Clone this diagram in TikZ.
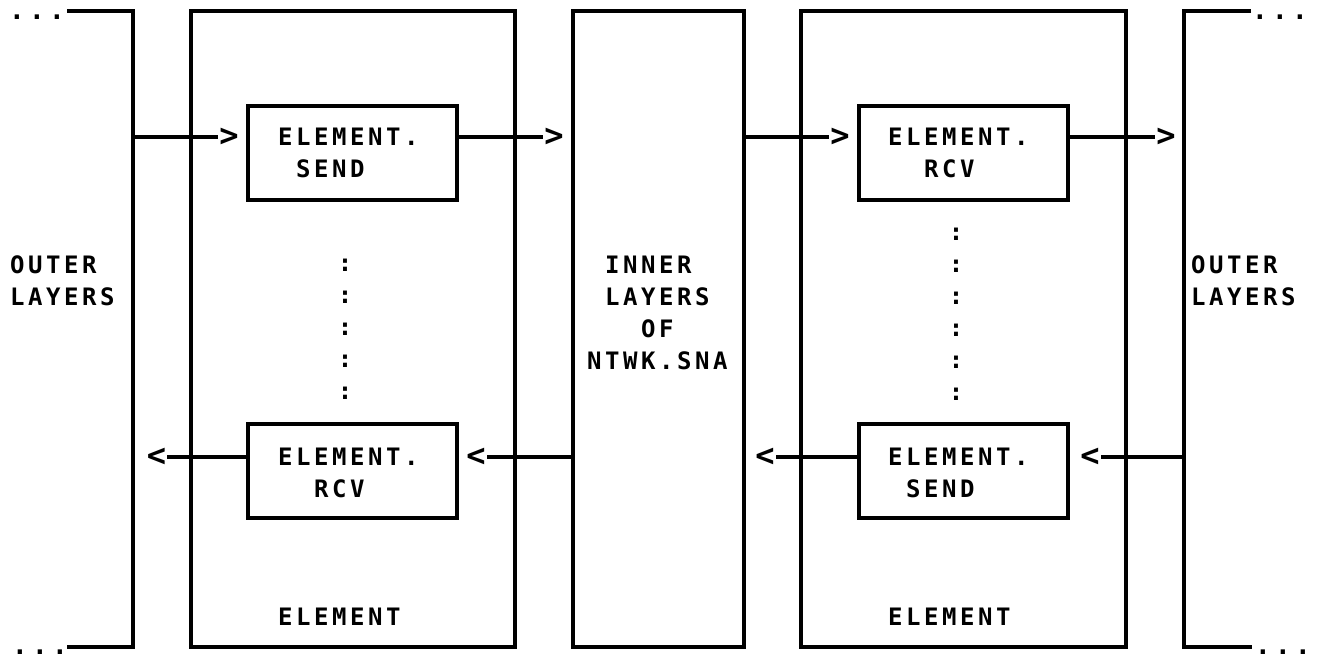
\documentclass[tikz,border=0pt]{standalone}
\usepackage{fontspec}
\newfontfamily\dgfont[LetterSpace=14.8, BoldFont={DejaVu Sans Mono Bold}]{DejaVu Sans Mono}
\newfontfamily\dotfont[LetterSpace=16.7, BoldFont={DejaVu Sans Mono Bold}]{DejaVu Sans Mono}
\newfontfamily\chevfont[BoldFont={DejaVu Sans Mono Bold}]{DejaVu Sans Mono}
\tikzset{
  frame/.style={draw, line width=3.3pt, inner sep=0pt},
  lbl/.style={font={\dgfont\bfseries\fontsize{24pt}{28pt}\selectfont}, inner sep=0pt, anchor=west},
  ellip/.style={font={\dotfont\bfseries\fontsize{26pt}{28pt}\selectfont}, inner sep=0pt, anchor=west},
  colon/.style={font={\chevfont\bfseries\fontsize{24pt}{28pt}\selectfont}, inner sep=0pt},
  chev/.style={font={\chevfont\bfseries\fontsize{32pt}{34pt}\selectfont}, inner sep=0pt},
  conn/.style={line width=3.3pt, shorten >=1pt},
  brk/.style={line width=3.3pt, line join=miter},
}
\begin{document}
\begin{tikzpicture}[x=1pt, y=-1pt]
\useasboundingbox (0,0) rectangle (1324,658);
% outer brackets
\draw[brk] (67,11) -- (133,11) -- (133,647) -- (67,647);
\draw[brk] (1251,11) -- (1184,11) -- (1184,647) -- (1252,647);
\coordinate (lb1) at (133,137);
\coordinate (rb2) at (1184,457);
\node[ellip] (dotsTL) at (9,17) {...};
\node[ellip] (dotsBL) at (12,652) {...};
\node[ellip] (dotsTR) at (1252,17) {...};
\node[ellip] (dotsBR) at (1255,652) {...};
\node[lbl] (outerL1) at (10,265) {OUTER};
\node[lbl] (outerL2) at (10,297) {LAYERS};
\node[lbl] (outerR1) at (1191,265) {OUTER};
\node[lbl] (outerR2) at (1191,297) {LAYERS};
% big boxes
\node[frame, minimum width=324pt, minimum height=636pt] (elemA) at (353,329) {};
\node[frame, minimum width=171pt, minimum height=636pt] (inner) at (658.5,329) {};
\node[frame, minimum width=325pt, minimum height=636pt] (elemB) at (963.5,329) {};
% small boxes
\node[frame, minimum width=209pt, minimum height=94pt] (sendA) at (352.5,153) {};
\node[frame, minimum width=209pt, minimum height=94pt] (rcvA) at (352.5,471) {};
\node[frame, minimum width=209pt, minimum height=94pt] (rcvB) at (963.5,153) {};
\node[frame, minimum width=209pt, minimum height=94pt] (sendB) at (963.5,471) {};
% texts left element
\node[lbl] (tA1) at (278,137) {ELEMENT.};
\node[lbl] (tA2) at (296,169) {SEND};
\node[lbl] (tA3) at (278,457) {ELEMENT.};
\node[lbl] (tA4) at (314,489) {RCV};
\node[lbl] (tA5) at (278,617) {ELEMENT};
\foreach \y [count=\i] in {265,297,329,361,393} \node[colon] (colA\i) at (345,\y) {:};
% inner
\node[lbl] (in1) at (605,265) {INNER};
\node[lbl] (in2) at (605,297) {LAYERS};
\node[lbl] (in3) at (641,329) {OF};
\node[lbl] (in4) at (587,361) {NTWK.SNA};
% texts right element
\node[lbl] (tB1) at (888,137) {ELEMENT.};
\node[lbl] (tB2) at (924,169) {RCV};
\node[lbl] (tB3) at (888,457) {ELEMENT.};
\node[lbl] (tB4) at (906,489) {SEND};
\node[lbl] (tB5) at (888,617) {ELEMENT};
\foreach \y [count=\i] in {234,266,298,330,362,394} \node[colon] (colB\i) at (956,\y) {:};
% arrows top
\node[chev] (c1) at (229,137) {>};
\node[chev] (c2) at (554,137) {>};
\node[chev] (c3) at (840,137) {>};
\node[chev] (c4) at (1166,137) {>};
\draw[conn] (lb1) -- (c1);
\draw[conn] (sendA.east |- c2) -- (c2);
\draw[conn] (inner.east |- c3) -- (c3);
\draw[conn] (rcvB.east |- c4) -- (c4);
% arrows bottom
\node[chev] (d1) at (156.5,457) {<};
\node[chev] (d2) at (476,457) {<};
\node[chev] (d3) at (765,457) {<};
\node[chev] (d4) at (1090,457) {<};
\draw[conn] (rcvA.west |- d1) -- (d1);
\draw[conn] (inner.west |- d2) -- (d2);
\draw[conn] (sendB.west |- d3) -- (d3);
\draw[conn] (rb2) -- (d4);
\end{tikzpicture}
\end{document}
